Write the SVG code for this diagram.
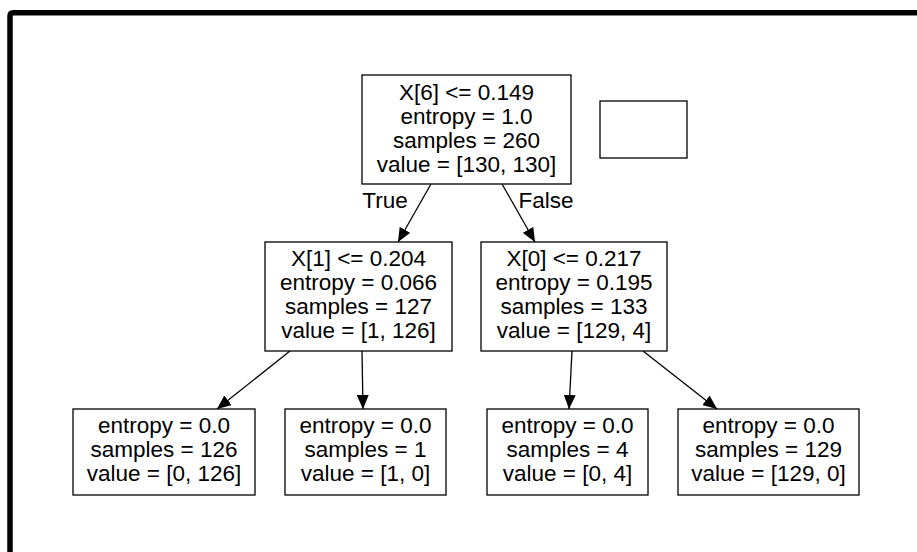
<svg xmlns="http://www.w3.org/2000/svg" width="917" height="552" viewBox="0 0 917 552">
<style>
.box{fill:#fff;stroke:#000;stroke-width:1.3}
.t{font-family:"Liberation Sans",Arial,sans-serif;font-size:22.5px;fill:#000;text-anchor:middle}
.e{stroke:#000;stroke-width:1.3;fill:none;marker-end:url(#ah)}
</style>
<defs>
<marker id="ah" markerUnits="userSpaceOnUse" markerWidth="15" markerHeight="12" refX="14" refY="6" orient="auto">
<path d="M0,0 L14,6 L0,12 z" fill="#000"/>
</marker>
</defs>
<rect width="917" height="552" fill="#fff"/>
<path d="M10,560 V16 Q10,12.7 13.3,12.7 H925" fill="none" stroke="#000" stroke-width="5.5"/>
<g id="connectors">
<line class="e" x1="431" y1="184" x2="398" y2="242"/>
<line class="e" x1="502" y1="184" x2="535" y2="242"/>
<line class="e" x1="290" y1="351" x2="217" y2="409"/>
<line class="e" x1="362" y1="351" x2="363" y2="409"/>
<line class="e" x1="572" y1="351" x2="569" y2="409"/>
<line class="e" x1="643" y1="351" x2="717" y2="409"/>
<text class="t" x="385" y="208">True</text>
<text class="t" x="546" y="208">False</text>
</g>
<g id="node0">
<rect class="box" x="362" y="75" width="209" height="109"/>
<text class="t" x="466.5" y="100">X[6] &lt;= 0.149</text>
<text class="t" x="466.5" y="124">entropy = 1.0</text>
<text class="t" x="466.5" y="148">samples = 260</text>
<text class="t" x="466.5" y="172">value = [130, 130]</text>
</g>
<g id="empty">
<rect class="box" x="600" y="101" width="87" height="57"/>
</g>
<g id="node1">
<rect class="box" x="265" y="242" width="187" height="109"/>
<text class="t" x="358.5" y="266">X[1] &lt;= 0.204</text>
<text class="t" x="358.5" y="290">entropy = 0.066</text>
<text class="t" x="358.5" y="314">samples = 127</text>
<text class="t" x="358.5" y="338">value = [1, 126]</text>
</g>
<g id="node4">
<rect class="box" x="481" y="242" width="186" height="109"/>
<text class="t" x="574" y="266">X[0] &lt;= 0.217</text>
<text class="t" x="574" y="290">entropy = 0.195</text>
<text class="t" x="574" y="314">samples = 133</text>
<text class="t" x="574" y="338">value = [129, 4]</text>
</g>
<g id="node2">
<rect class="box" x="73" y="409" width="182" height="86"/>
<text class="t" x="164" y="433">entropy = 0.0</text>
<text class="t" x="164" y="457">samples = 126</text>
<text class="t" x="164" y="481">value = [0, 126]</text>
</g>
<g id="node3">
<rect class="box" x="285" y="409" width="161" height="86"/>
<text class="t" x="365.5" y="433">entropy = 0.0</text>
<text class="t" x="365.5" y="457">samples = 1</text>
<text class="t" x="365.5" y="481">value = [1, 0]</text>
</g>
<g id="node5">
<rect class="box" x="487" y="409" width="161" height="86"/>
<text class="t" x="567.5" y="433">entropy = 0.0</text>
<text class="t" x="567.5" y="457">samples = 4</text>
<text class="t" x="567.5" y="481">value = [0, 4]</text>
</g>
<g id="node6">
<rect class="box" x="678" y="409" width="181" height="86"/>
<text class="t" x="768.5" y="433">entropy = 0.0</text>
<text class="t" x="768.5" y="457">samples = 129</text>
<text class="t" x="768.5" y="481">value = [129, 0]</text>
</g>
</svg>
